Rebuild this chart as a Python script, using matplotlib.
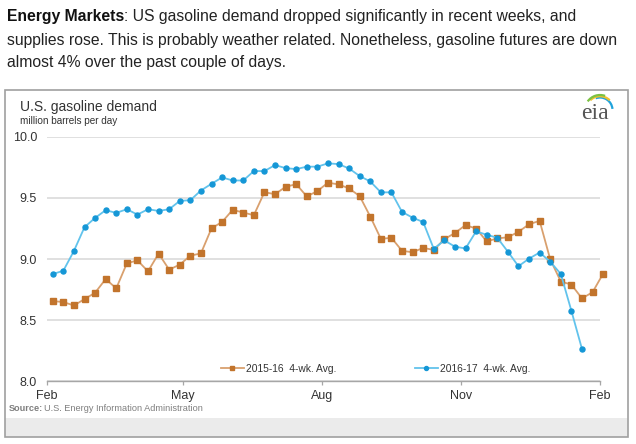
import matplotlib
matplotlib.use('Agg')
import matplotlib.pyplot as plt
import matplotlib.dates as mdates
from matplotlib.patches import Rectangle, Arc
import datetime as dt

plt.rcParams['font.family'] = ['Liberation Sans', 'DejaVu Sans']

# ---------------- data ----------------
first_week = dt.date(2016, 2, 5)   # first weekly observation

demand_2015_16 = [8.656, 8.648, 8.620, 8.672, 8.724, 8.836, 8.760, 8.964, 8.989, 8.899,
                  9.044, 8.913, 8.954, 9.027, 9.046, 9.251, 9.303, 9.402, 9.380, 9.358,
                  9.546, 9.530, 9.590, 9.612, 9.512, 9.555, 9.624, 9.610, 9.577, 9.514,
                  9.347, 9.165, 9.173, 9.067, 9.055, 9.091, 9.074, 9.162, 9.213, 9.277,
                  9.249, 9.144, 9.168, 9.178, 9.222, 9.284, 9.312, 8.998, 8.816, 8.791,
                  8.678, 8.728, 8.880]

demand_2016_17 = [8.877, 8.904, 9.066, 9.260, 9.336, 9.399, 9.377, 9.407, 9.363, 9.407,
                  9.393, 9.407, 9.475, 9.481, 9.560, 9.615, 9.667, 9.642, 9.642, 9.719,
                  9.719, 9.768, 9.743, 9.735, 9.755, 9.755, 9.782, 9.776, 9.740, 9.678,
                  9.634, 9.545, 9.545, 9.385, 9.338, 9.302, 9.083, 9.152, 9.101, 9.086,
                  9.226, 9.198, 9.174, 9.060, 8.941, 9.003, 9.053, 8.978, 8.878, 8.577,
                  8.265]

series_labels = ['2015-16  4-wk. Avg.', '2016-17  4-wk. Avg.']
y_ticks = [8.0, 8.5, 9.0, 9.5, 10.0]
x_tick_dates = [dt.date(2016, 2, 1), dt.date(2016, 5, 1), dt.date(2016, 8, 1),
                dt.date(2016, 11, 1), dt.date(2017, 2, 1)]
x_tick_labels = ['Feb', 'May', 'Aug', 'Nov', 'Feb']

dates_a = [first_week + dt.timedelta(days=7 * i) for i in range(len(demand_2015_16))]
dates_b = [first_week + dt.timedelta(days=7 * i) for i in range(len(demand_2016_17))]

# ---------------- figure ----------------
W, H = 636, 444
fig = plt.figure(figsize=(W / 100, H / 100), dpi=100)
fig.patch.set_facecolor('white')

def fx(x):
    return x / W

def fy(y):
    return 1 - y / H

# paragraph text on top
renderer = fig.canvas.get_renderer()
para_fs = 11.3
t1 = fig.text(fx(7), fy(17), 'Energy Markets', fontsize=para_fs, fontweight='bold',
              va='center', ha='left', color='#111111')
bb = t1.get_window_extent(renderer=renderer)
fig.text(bb.x1 / W, fy(17), ': US gasoline demand dropped significantly in recent weeks, and',
         fontsize=para_fs, va='center', ha='left', color='#222222')
fig.text(fx(7), fy(40), 'supplies rose. This is probably weather related. Nonetheless, gasoline futures are down',
         fontsize=para_fs, va='center', ha='left', color='#222222')
fig.text(fx(7), fy(62), 'almost 4% over the past couple of days.',
         fontsize=para_fs, va='center', ha='left', color='#222222')

# chart frame and grey footer band
fig.add_artist(Rectangle((fx(5.3), fy(437.3)), (627.7 - 5.3) / W, (437.3 - 418.3) / H,
                         transform=fig.transFigure, fc='#ebebeb', ec='none', zorder=0))
fig.add_artist(Rectangle((fx(5.3), fy(437.3)), (627.7 - 5.3) / W, (437.3 - 90) / H,
                         transform=fig.transFigure, fill=False, ec='#a0a0a0', lw=1.2, zorder=1))

# chart titles
fig.text(fx(20), fy(106.5), 'U.S. gasoline demand', fontsize=10, va='center', ha='left',
         color='#333333')
fig.text(fx(20), fy(121), 'million barrels per day', fontsize=7.2, va='center', ha='left',
         color='#333333')

# main axes
ax = fig.add_axes([fx(46.7), fy(381.3), (600.1 - 46.7) / W, (381.3 - 136.7) / H])
ax.set_facecolor('none')
ax.set_xlim(mdates.date2num(x_tick_dates[0]), mdates.date2num(x_tick_dates[-1]))
ax.set_ylim(8.0, 10.0)

ax.plot(dates_a, demand_2015_16, color='#d9a06e', lw=1.3, marker='s', ms=3.8,
        mfc='#c2742c', mec='#c2742c', clip_on=False, zorder=3, label=series_labels[0])
ax.plot(dates_b, demand_2016_17, color='#62c3ec', lw=1.3, marker='o', ms=3.6,
        mfc='#1597d6', mec='#1597d6', clip_on=False, zorder=4, label=series_labels[1])

ax.set_yticks(y_ticks)
ax.set_yticklabels(['%.1f' % v for v in y_ticks])
ax.set_xticks([mdates.date2num(d) for d in x_tick_dates])
ax.set_xticklabels(x_tick_labels)
ax.tick_params(axis='y', length=0, pad=7, labelsize=9, labelcolor='#333333')
ax.tick_params(axis='x', length=3, width=0.9, color='#a6a6a6', direction='out', pad=3,
               labelsize=9, labelcolor='#333333')
for s in ['top', 'right', 'left']:
    ax.spines[s].set_visible(False)
ax.spines['bottom'].set_color('#a6a6a6')
ax.spines['bottom'].set_linewidth(1.0)
ax.grid(axis='y', color='#dadada', lw=1.2)
ax.set_axisbelow(True)

leg = ax.legend(loc='center left', bbox_to_anchor=(fx(221), fy(369)),
                bbox_transform=fig.transFigure, ncol=2, frameon=False, fontsize=7.4,
                handlelength=2.2, handletextpad=0.2, columnspacing=7.7, borderpad=0,
                borderaxespad=0, markerscale=0.8)
for t in leg.get_texts():
    t.set_color('#333333')

# source line
ts = fig.text(fx(9), fy(408.3), 'Source:', fontsize=6.6, fontweight='bold', va='center',
              ha='left', color='#7f7f7f')
bbs = ts.get_window_extent(renderer=renderer)
fig.text(bbs.x1 / W + 1 / W, fy(408.3), 'U.S. Energy Information Administration',
         fontsize=6.6, va='center', ha='left', color='#7f7f7f')

# eia logo (pixel units: x = px - 578, y = 124 - py)
lax = fig.add_axes([fx(578), fy(124), 46 / W, 32 / H])
lax.set_xlim(0, 46)
lax.set_ylim(0, 32)
lax.axis('off')
lax.text(17, 11, 'eia', fontsize=17, family=['Liberation Serif', 'DejaVu Serif'],
         ha='center', va='center', color='#555555')
lax.add_patch(Arc((22, 14), 25, 25, theta1=5, theta2=110, color='#1fa3dc', lw=1.6))
lax.add_patch(Arc((22, 14), 27.5, 27.5, theta1=45, theta2=135, color='#f2c12e', lw=1.6))
lax.add_patch(Arc((22, 14), 30, 30, theta1=70, theta2=145, color='#7cc242', lw=1.6))

fig.savefig('out.png', dpi=100, facecolor='white')
